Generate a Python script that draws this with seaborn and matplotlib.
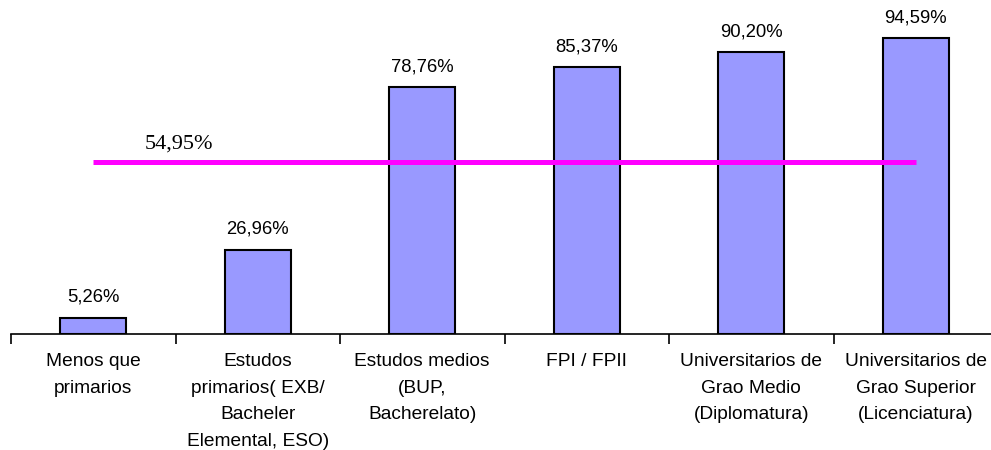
import matplotlib
matplotlib.use("Agg")
import matplotlib.pyplot as plt
import seaborn as sns

# Chart data
categories = [
    "Menos que\nprimarios",
    "Estudos\nprimarios( EXB/\nBacheler\nElemental, ESO)",
    "Estudos medios\n(BUP,\nBacherelato)",
    "FPI / FPII",
    "Universitarios de\nGrao Medio\n(Diplomatura)",
    "Universitarios de\nGrao Superior\n(Licenciatura)",
]
values = [5.26, 26.96, 78.76, 85.37, 90.20, 94.59]
average = 54.95


def fmt(v):
    return f"{v:.2f}%".replace(".", ",")


sns.set_theme(style="white")
plt.rcParams["font.family"] = ["Liberation Sans", "DejaVu Sans"]

fig = plt.figure(figsize=(9.91, 4.5), dpi=100)
ax = fig.add_axes([11 / 991, (450 - 334) / 450, 987 / 991, 313 / 450])

sns.barplot(x=categories, y=values, color="#9999FF", saturation=1,
            edgecolor="black", linewidth=1.5, width=0.4, ax=ax)

# value labels above bars
for i, v in enumerate(values):
    ax.annotate(fmt(v), (i, v), xytext=(0, 14.5), textcoords="offset points",
                ha="center", va="center", fontsize=13.3, color="black")

# average line from first to last bar centre
ax.plot([0, len(values) - 1], [average, average], color="#FF00FF", lw=3.6,
        solid_capstyle="butt", zorder=3)
ax.text(0.52, 59.3, fmt(average), ha="center", va="baseline",
        fontsize=16, family=["Liberation Serif", "DejaVu Serif"], color="black")

ax.set_xlim(-0.5, len(values) - 0.5)
ax.set_ylim(0, 100)

for s in ["top", "right", "left"]:
    ax.spines[s].set_visible(False)
ax.spines["bottom"].set_color("black")
ax.spines["bottom"].set_linewidth(1.2)
ax.set_yticks([])
ax.set_xticks([i - 0.5 for i in range(len(values) + 1)], minor=True)
ax.tick_params(axis="x", which="major", length=0, pad=14, labelcolor="black")
ax.tick_params(axis="x", which="minor", length=7, width=1.2, color="black",
               direction="out", bottom=True)
ax.set_xticklabels(categories, fontsize=13.8, linespacing=1.72, va="top",
                   color="black")
ax.set_xlabel("")
ax.set_ylabel("")

fig.savefig("out.png", dpi=100)
